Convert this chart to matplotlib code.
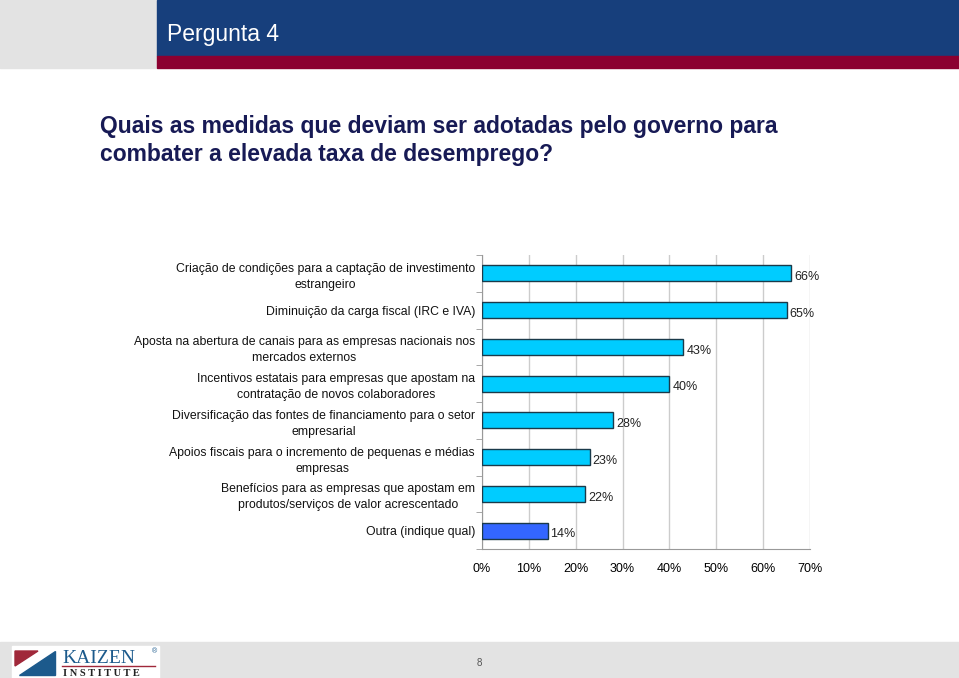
import matplotlib.pyplot as plt
from matplotlib.patches import Rectangle, Polygon

categorias = [
    "Criação de condições para a captação de investimento\nestrangeiro",
    "Diminuição da carga fiscal (IRC e IVA)",
    "Aposta na abertura de canais para as empresas nacionais nos\nmercados externos",
    "Incentivos estatais para empresas que apostam na\ncontratação de novos colaboradores",
    "Diversificação das fontes de financiamento para o setor\nempresarial",
    "Apoios fiscais para o incremento de pequenas e médias\nempresas",
    "Benefícios para as empresas que apostam em\nprodutos/serviços de valor acrescentado",
    "Outra (indique qual)",
]
valores = [66, 65, 43, 40, 28, 23, 22, 14]
xticks = [0, 10, 20, 30, 40, 50, 60, 70]

plt.rcParams['font.family'] = ['Liberation Sans', 'DejaVu Sans']

W, H = 959, 678
fig = plt.figure(figsize=(W / 100, H / 100), dpi=100)

def px(x0, y0, x1, y1):
    return [x0 / W, 1 - y1 / H, (x1 - x0) / W, (y1 - y0) / H]

# fundo / cabecalho
bg = fig.add_axes([0, 0, 1, 1])
bg.set_xlim(0, W)
bg.set_ylim(H, 0)
bg.axis('off')
bg.add_patch(Rectangle((0, 0), 157, 68, color='#e3e3e3'))
bg.add_patch(Rectangle((157, 0), W - 157, 56, color='#173f7c'))
bg.add_patch(Rectangle((157, 56), W - 157, 12, color='#8b0030'))
bg.text(167, 34, "Pergunta 4", color='white', fontsize=16.5, va='center', ha='left')
bg.text(100, 115, "Quais as medidas que deviam ser adotadas pelo governo para\ncombater a elevada taxa de desemprego?",
        color='#171a55', fontsize=16.5, fontweight='bold', va='top', ha='left', linespacing=1.3)

# rodape
bg.add_patch(Rectangle((0, 642), W, 36, color='#e3e3e3'))
bg.add_patch(Rectangle((12, 646), 147, 32, color='white'))
bg.add_patch(Polygon([(15, 651), (38, 651), (15, 666)], color='#a0283a'))
bg.add_patch(Polygon([(55, 651), (55, 675), (19, 675)], color='#1c5a8c'))
bg.text(62, 663, "KAIZEN", family='Liberation Serif', color='#1c5a8c', fontsize=14, va='baseline', ha='left')
bg.text(152, 652, "®", color='#1c5a8c', fontsize=5, va='center', ha='left')
bg.plot([62, 155], [666, 666], color='#a0283a', lw=1)
bg.text(63, 676.5, "I N S T I T U T E", family='Liberation Serif', color='#222222', fontsize=7.5,
        fontweight='bold', va='baseline', ha='left')
bg.text(479, 663, "8", color='#555555', fontsize=7, va='center', ha='center')

# grafico
ax = fig.add_axes(px(482, 255, 810, 549))
y = list(range(len(categorias)))
cores = ['#00ccff'] * (len(valores) - 1) + ['#3366ff']
ax.barh(y, valores, height=0.44, color=cores, edgecolor='#1a3a4a', linewidth=1, zorder=3)
for yi, v in zip(y, valores):
    ax.text(v + 0.6, yi + 0.1, f"{v}%", va='center', ha='left', fontsize=9, color='#222222')
ax.set_ylim(len(categorias) - 0.5, -0.5)
ax.set_xlim(0, 70)
ax.set_xticks(xticks)
ax.set_xticklabels([f"{t}%" for t in xticks], fontsize=9)
ax.set_yticks(y)
ax.set_yticklabels(categorias, fontsize=8.8, ha='right', multialignment='center', linespacing=1.45, color='#111111')
ax.tick_params(axis='y', length=0, pad=5)
ax.set_yticks([i + 0.5 for i in range(-1, len(categorias))], minor=True)
ax.tick_params(axis='y', which='minor', length=4, color='#999999')
ax.tick_params(axis='x', length=0, pad=10)
ax.grid(axis='x', color='#cccccc', lw=1, zorder=0)
for s in ['top', 'right']:
    ax.spines[s].set_visible(False)
ax.spines['left'].set_color('#999999')
ax.spines['bottom'].set_color('#999999')

fig.savefig("out.png", dpi=100)
